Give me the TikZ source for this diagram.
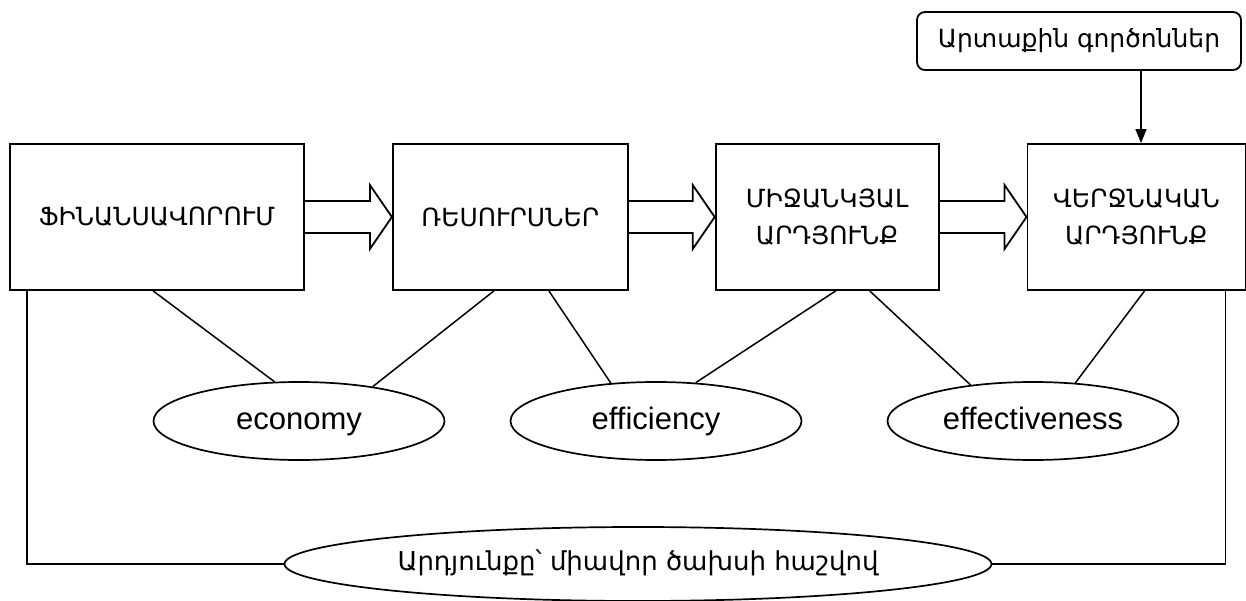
\documentclass[tikz,border=0pt]{standalone}
\usepackage{fontspec}
\setmainfont{Liberation Sans}
\newfontfamily\armfont{DejaVu Sans}
\usetikzlibrary{positioning, calc, shapes.geometric, arrows.meta}

% wide hollow arrow from one box to the next
\newcommand{\fatarrow}[2]{%
  \draw[fatline] ($(#1.east)+(0,-16)$) -- ($(#2.west)+(-22,-16)$) -- ($(#2.west)+(-22,-32)$)
    -- (#2.west) -- ($(#2.west)+(-22,32)$) -- ($(#2.west)+(-22,16)$) -- ($(#1.east)+(0,16)$);}

\begin{document}
\begin{tikzpicture}[
        x=1pt, y=-1pt,
        box/.style={rectangle, draw, line width=1.8pt, minimum height=146pt, inner sep=0pt, align=center,
            font=\armfont\fontsize{25}{37}\selectfont},
        oval/.style={ellipse, draw, line width=1.7pt, minimum width=291pt, minimum height=78pt, inner sep=0pt,
            text height=22pt, text depth=6pt, font=\fontsize{31}{34}\selectfont},
        fatline/.style={line width=1.8pt, line join=miter},
        link/.style={line width=1.5pt},
        pil/.style={line width=1.5pt, -{Triangle[length=14pt, width=11pt]}},
    ]
        \useasboundingbox (0,0) rectangle (1246,601);

        \node[box, minimum width=294pt] (FIN) at (157,217) {ՖԻՆԱՆՍԱՎՈՐՈՒՄ};
        \node[box, minimum width=235pt, right=87pt of FIN] (RES) {ՌԵՍՈՒՐՍՆԵՐ};
        \node[box, minimum width=223pt, right=86pt of RES] (MID) {ՄԻՋԱՆԿՅԱԼ\\ԱՐԴՅՈՒՆՔ};
        \node[box, minimum width=218pt, right=87pt of MID] (FINAL) {ՎԵՐՋՆԱԿԱՆ\\ԱՐԴՅՈՒՆՔ};

        \node[rectangle, draw, rounded corners=8pt, line width=1.8pt, minimum width=324pt, minimum height=58pt,
            font=\armfont\fontsize{25}{30}\selectfont] (EXT) at (1079,41) {Արտաքին գործոններ};

        \node[oval] (ECO) at (299,421) {economy};
        \node[oval] (EFF) at (656,421) {efficiency};
        \node[oval] (EFV) at (1033,421) {effectiveness};
        \node[oval, minimum width=707pt, minimum height=74pt, text height=18pt, text depth=6pt,
            font=\armfont\fontsize{26}{30}\selectfont] (UNIT) at (638,564) {Արդյունքը՝ միավոր ծախսի հաշվով};

        \fatarrow{FIN}{RES}
        \fatarrow{RES}{MID}
        \fatarrow{MID}{FINAL}

        \coordinate (tap) at ($(EXT.south)+(62,0)$);
        \draw[pil] (tap) -- (tap |- FINAL.north);

        \draw[link] ($(FIN.south west)+(144,0)$) -- (ECO.122);
        \draw[link] ($(RES.south west)+(102,0)$) -- (ECO.25);
        \draw[link] ($(RES.south west)+(157,0)$) -- (EFF.140);
        \draw[link] ($(MID.south west)+(121,0)$) -- (EFF.44);
        \draw[link] ($(MID.south west)+(155,0)$) -- (EFV.150);
        \draw[link] ($(FINAL.south west)+(118,0)$) -- (EFV.42);

        \draw[link] ($(FIN.south west)+(18,0)$) |- (UNIT.west);
        \draw[link] ($(FINAL.south east)+(-21,0)$) |- (UNIT.east);
    \end{tikzpicture}
\end{document}
